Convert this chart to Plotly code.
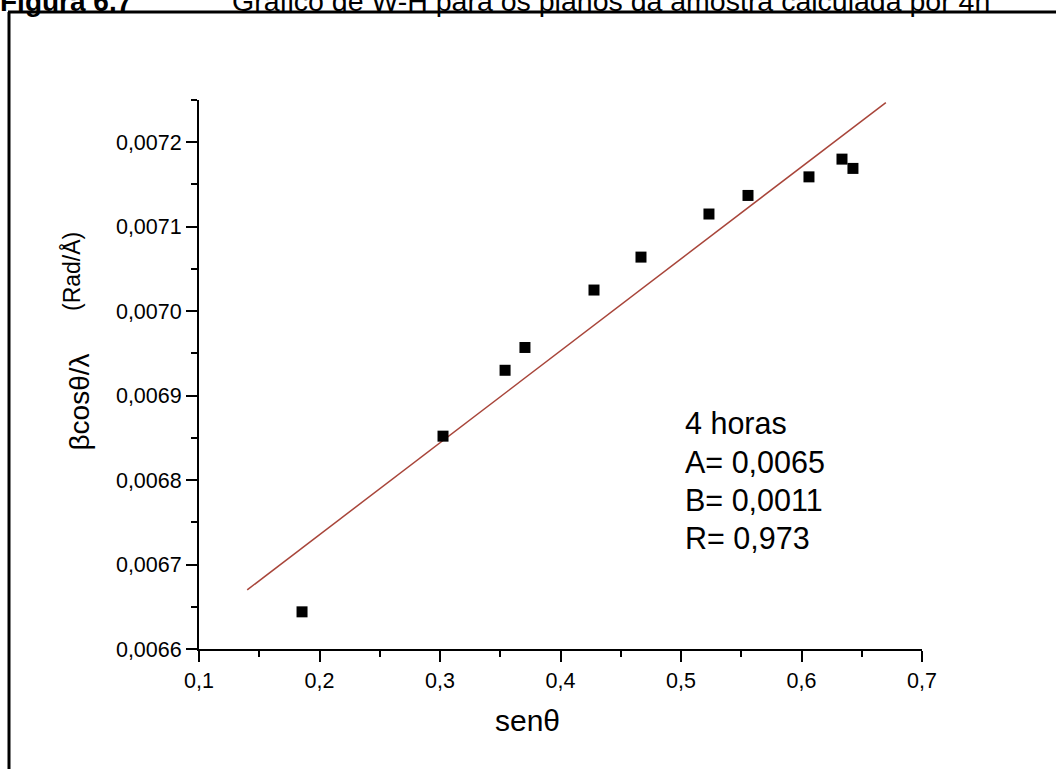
import plotly.graph_objects as go

# ---- data ----
sen_theta = [0.1855, 0.3025, 0.354, 0.3705, 0.4278, 0.4668, 0.5232, 0.5556, 0.6062, 0.6336, 0.6427]
beta_cos = [0.006644, 0.006852, 0.006930, 0.006957, 0.007025, 0.007064, 0.007115, 0.007137, 0.007159, 0.007180, 0.007169]
fit_x = [0.14, 0.67]
fit_y = [0.006670, 0.007247]
x_ticks = [0.1, 0.2, 0.3, 0.4, 0.5, 0.6, 0.7]
y_ticks = [0.0066, 0.0067, 0.0068, 0.0069, 0.0070, 0.0071, 0.0072]
stats_lines = ["4 horas", "A= 0,0065", "B= 0,0011", "R= 0,973"]
caption_bold = "Figura 6.7"
caption_text = "Gráfico de W-H para os planos da amostra calculada por 4h"
x_title = "senθ"
y_title = "βcosθ/λ"
y_unit = "(Rad/Å)"

# ---- layout geometry (pixels) ----
W, H = 1056, 769
L, R, T, B = 199, 922, 100, 649
FONT = "Liberation Sans, Arial, sans-serif"


def px_x(px):
    return (px - L) / (R - L)


def px_y(py):
    return (B - py) / (B - T)


fig = go.Figure()
fig.add_trace(go.Scatter(x=fit_x, y=fit_y, mode="lines",
                         line=dict(color="#a8453a", width=1.5), hoverinfo="skip"))
fig.add_trace(go.Scatter(x=sen_theta, y=beta_cos, mode="markers",
                         marker=dict(symbol="square", size=11, color="black")))

axis_common = dict(showline=True, linecolor="black", linewidth=2, mirror=False,
                   ticks="outside", ticklen=11, tickwidth=2, tickcolor="black",
                   showgrid=False, zeroline=False,
                   tickfont=dict(family=FONT, size=21.5, color="black"))

fig.update_xaxes(range=[0.1, 0.7], tickvals=x_ticks, tickformat=".1f",
                 minor=dict(ticks="outside", ticklen=6, tickwidth=2, tickcolor="black", dtick=0.05, tick0=0.1),
                 **axis_common)
fig.update_yaxes(range=[0.0066, 0.00725], tickvals=y_ticks, tickformat=".4f",
                 minor=dict(ticks="outside", ticklen=6, tickwidth=2, tickcolor="black", dtick=0.00005, tick0=0.0066),
                 **axis_common)

STATS_SIZE = 30.5
stats_baselines = [433, 472, 510, 548]
annotations = []
for line_text, base in zip(stats_lines, stats_baselines):
    annotations.append(dict(text=line_text, x=px_x(683), y=px_y(base - 0.966 * STATS_SIZE),
                            xref="paper", yref="paper", xanchor="left", yanchor="top",
                            align="left", showarrow=False,
                            font=dict(family=FONT, size=STATS_SIZE, color="black")))

annotations += [
    dict(text=x_title, x=px_x(527), y=px_y(720), xref="paper", yref="paper",
         xanchor="center", yanchor="middle", showarrow=False,
         font=dict(family=FONT, size=30, color="black")),
    dict(text=y_title, x=px_x(78.5), y=px_y(402), xref="paper", yref="paper", textangle=-90,
         xanchor="center", yanchor="middle", showarrow=False,
         font=dict(family=FONT, size=28, color="black")),
    dict(text=y_unit, x=px_x(71), y=px_y(272), xref="paper", yref="paper", textangle=-90,
         xanchor="center", yanchor="middle", showarrow=False,
         font=dict(family=FONT, size=23, color="black")),
    dict(text="<b>" + caption_bold + "</b>", x=px_x(-2), y=px_y(19), xref="paper", yref="paper",
         xanchor="left", yanchor="bottom", showarrow=False,
         font=dict(family=FONT, size=28, color="black")),
    dict(text=caption_text, x=px_x(230), y=px_y(19), xref="paper", yref="paper",
         xanchor="left", yanchor="bottom", showarrow=False,
         font=dict(family=FONT, size=28.5, color="black")),
]

shapes = [
    dict(type="line", xref="paper", yref="paper", x0=px_x(9), x1=px_x(9), y0=px_y(12), y1=px_y(H + 10),
         line=dict(color="black", width=3)),
    dict(type="line", xref="paper", yref="paper", x0=px_x(8), x1=px_x(W + 10), y0=px_y(12), y1=px_y(12),
         line=dict(color="black", width=3)),
]

fig.update_layout(width=W, height=H, margin=dict(l=L, r=W - R, t=T, b=H - B),
                  plot_bgcolor="white", paper_bgcolor="white", showlegend=False,
                  separators=",.", annotations=annotations, shapes=shapes,
                  font=dict(family=FONT, color="black"))

fig.write_html("out.html", config={"displayModeBar": False},
               post_script="document.body.style.margin='0px';")
